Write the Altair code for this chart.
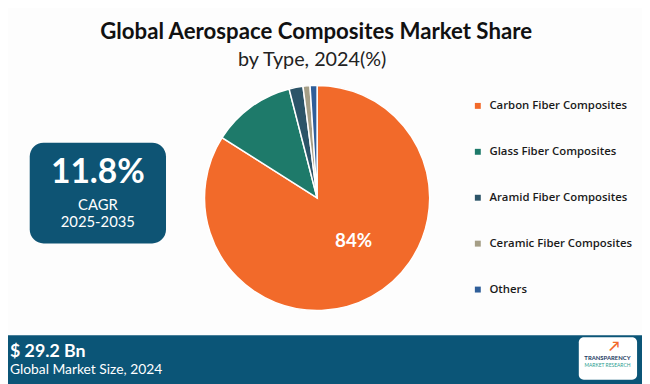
import altair as alt
import pandas as pd

categories = ["Carbon Fiber Composites", "Glass Fiber Composites", "Aramid Fiber Composites",
              "Ceramic Fiber Composites", "Others"]
shares = [84, 12, 2, 1, 1]
colors = ["#F26A2A", "#1E7A6A", "#2C5468", "#A59E86", "#2F5E99"]

title_text = "Global Aerospace Composites Market Share"
subtitle_text = "by Type, 2024(%)"
cagr_value = "11.8%"
cagr_label = "CAGR"
cagr_period = "2025-2035"
market_value = "$ 29.2 Bn"
market_label = "Global Market Size, 2024"

OFF = 8  # page margin; positions below are given in page pixels minus this

df = pd.DataFrame({"type": categories, "share": shares, "idx": list(range(len(categories)))})
one = pd.DataFrame({"a": [0]})

FONT = "Lato"

pie = alt.Chart(df).mark_arc(radius=114, stroke="white", strokeWidth=1.5).encode(
    theta=alt.Theta("share:Q", stack=True),
    order=alt.Order("idx:Q"),
    color=alt.Color("type:N", scale=alt.Scale(domain=categories, range=colors), sort=categories,
                    legend=alt.Legend(title=None, orient="none", legendX=470, legendY=91,
                                      symbolType="square", symbolSize=36, symbolStrokeWidth=0,
                                      labelFont="Open Sans", labelFontSize=11.5, labelFontWeight=600,
                                      labelColor="#1a1a1a", rowPadding=33.5, labelOffset=6,
                                      labelLimit=300)),
    x=alt.value(321 - OFF), y=alt.value(198 - OFF),
)

pie_label = alt.Chart(df).transform_filter(alt.datum.idx == 0).transform_calculate(
    lbl="format(datum.share, 'd') + '%'"
).mark_text(font=FONT, fontSize=19, fontWeight="bold", color="white").encode(
    text="lbl:N", x=alt.value(358 - OFF), y=alt.value(242 - OFF)
)

title = alt.Chart(one).mark_text(font=FONT, fontSize=22.5, fontWeight="bold", color="#111111").encode(
    text=alt.value(title_text), x=alt.value(320 - OFF), y=alt.value(30 - OFF))
subtitle = alt.Chart(one).mark_text(font=FONT, fontSize=20, color="#222222").encode(
    text=alt.value(subtitle_text), x=alt.value(316 - OFF), y=alt.value(58 - OFF))

box = alt.Chart(one).mark_rect(cornerRadius=14, color="#0E5474").encode(
    x=alt.value(30 - OFF), x2=alt.value(168 - OFF), y=alt.value(142 - OFF), y2=alt.value(244 - OFF))
cagr1 = alt.Chart(one).mark_text(font=FONT, fontSize=34, fontWeight="bold", color="white").encode(
    text=alt.value(cagr_value), x=alt.value(99 - OFF), y=alt.value(173 - OFF))
cagr2 = alt.Chart(one).mark_text(font=FONT, fontSize=15, color="white").encode(
    text=alt.value(cagr_label), x=alt.value(99 - OFF), y=alt.value(205 - OFF))
cagr3 = alt.Chart(one).mark_text(font=FONT, fontSize=15, color="white").encode(
    text=alt.value(cagr_period), x=alt.value(99 - OFF), y=alt.value(222 - OFF))

footer = alt.Chart(one).mark_rect(color="#0B5577").encode(
    x=alt.value(-OFF), x2=alt.value(650 - OFF), y=alt.value(337 - OFF), y2=alt.value(392 - OFF))
foot1 = alt.Chart(one).mark_text(font=FONT, fontSize=18, fontWeight="bold", color="white", align="left").encode(
    text=alt.value(market_value), x=alt.value(10 - OFF), y=alt.value(354 - OFF))
foot2 = alt.Chart(one).mark_text(font=FONT, fontSize=14, color="white", align="left").encode(
    text=alt.value(market_label), x=alt.value(10 - OFF), y=alt.value(372 - OFF))

logo = alt.Chart(one).mark_rect(cornerRadius=5, color="white").encode(
    x=alt.value(586 - OFF), x2=alt.value(645 - OFF), y=alt.value(339 - OFF), y2=alt.value(382 - OFF))
logo1 = alt.Chart(one).mark_text(font=FONT, fontSize=6, fontWeight="bold", color="#1B3A63").encode(
    text=alt.value("TRANSPARENCY"), x=alt.value(615 - OFF), y=alt.value(360 - OFF))
logo2 = alt.Chart(one).mark_text(font=FONT, fontSize=5, color="#2A9D8F").encode(
    text=alt.value("MARKET RESEARCH"), x=alt.value(615 - OFF), y=alt.value(367 - OFF))
logo_arrow = alt.Chart(one).mark_text(font=FONT, fontSize=14, fontWeight="bold", color="#F26A2A").encode(
    text=alt.value("↗"), x=alt.value(622 - OFF), y=alt.value(349 - OFF))

chart = alt.layer(
    footer, foot1, foot2, logo, logo_arrow, logo1, logo2,
    title, subtitle, box, cagr1, cagr2, cagr3, pie, pie_label
).properties(
    width=650 - OFF, height=384 - OFF, autosize=alt.AutoSizeParams(type="none"), padding=0,
    background="#FDFDFD"
).configure_view(stroke=None)

chart.save("out.html", embed_options={"renderer": "svg", "actions": False})
